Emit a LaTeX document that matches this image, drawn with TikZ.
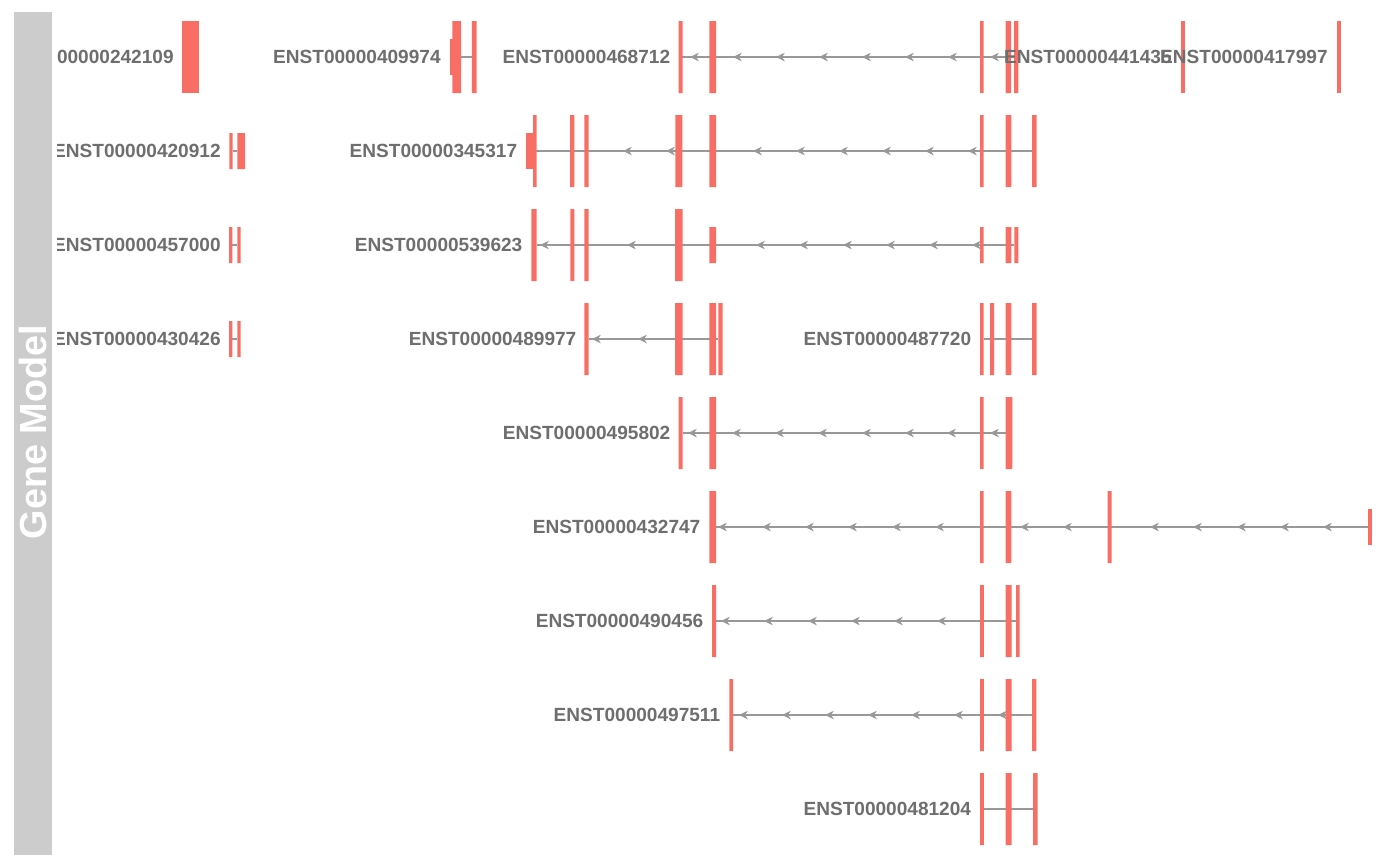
\documentclass[tikz,border=0pt]{standalone}
\usepackage{fontspec}
\setmainfont{Liberation Sans}
\usetikzlibrary{arrows.meta}
\definecolor{exonred}{RGB}{248,110,101}
\definecolor{intgray}{RGB}{152,152,152}
\definecolor{lblgray}{RGB}{110,110,110}
\definecolor{panelgray}{RGB}{204,204,204}
\tikzset{
  GM/.style={fill=panelgray},
  TT/.style={rotate=90,text=white,font=\fontsize{21.5}{25}\selectfont\bfseries,inner sep=0pt},
  TL/.style={font=\fontsize{10.85}{13}\selectfont\bfseries,text=lblgray,anchor=east,inner sep=0pt},
  CDS/.style={fill=exonred},
  UTR/.style={fill=exonred},
  IN/.style={draw=intgray,line width=1.15pt},
  AR/.style={intgray,line width=1.15pt,-{Stealth[length=5pt,width=4.8pt,inset=1.6pt]}},
}

\begin{document}
\begin{tikzpicture}[x=0.02cm,y=-0.02cm]
\useasboundingbox (0,0) rectangle (1400,866);

% Track title panel
\fill[GM] (14,12) rectangle (52,855);
\node[TT] (title) at (33,432) {Gene Model};

% Intron lines
\draw[IN] (461,57) -- (472,57);
\draw[IN] (682,57) -- (1014,57);
\draw[IN] (232.7,151) -- (237.3,151);
\draw[IN] (536,151) -- (1032,151);
\draw[IN] (232.3,245) -- (237.3,245);
\draw[IN] (536.7,245) -- (1014.3,245);
\draw[IN] (232.3,339) -- (237.3,339);
\draw[IN] (588.7,339) -- (718.3,339);
\draw[IN] (983.7,339) -- (1032,339);
\draw[IN] (682.7,433) -- (1005.7,433);
\draw[IN] (716,527) -- (1368.3,527);
\draw[IN] (716,621) -- (1016,621);
\draw[IN] (733,715) -- (1032,715);
\draw[IN] (984,809) -- (1033,809);

% Strand arrows (minus strand)
\foreach \x in {690,733,776,819,862,905,948,990} \draw[AR] (\x+8,57) -- (\x,57);
\foreach \x in {623,666,753,796,839,882,925,968} \draw[AR] (\x+8,151) -- (\x,151);
\foreach \x in {540,627,756,799,843,886,929,972} \draw[AR] (\x+8,245) -- (\x,245);
\foreach \x in {592,638} \draw[AR] (\x+8,339) -- (\x,339);
\foreach \x in {688,732,775,818,862,905,947,990} \draw[AR] (\x+8,433) -- (\x,433);
\foreach \x in {718,762,805,848,892,935,1020,1063,1150,1193,1237,1280,1323} \draw[AR] (\x+8,527) -- (\x,527);
\foreach \x in {721,764,808,851,894,937} \draw[AR] (\x+8,621) -- (\x,621);
\foreach \x in {739,782,825,868,911,954,998} \draw[AR] (\x+8,715) -- (\x,715);

% Row 1 exons
\fill[CDS] (182,21) rectangle (199,93);
\fill[UTR] (450,39) rectangle (452.5,75);
\fill[CDS] (452.3,21) rectangle (461,93) (471.8,21) rectangle (476.5,93);
\fill[CDS] (678.5,21) rectangle (682.5,93) (709.3,21) rectangle (716,93) (980,21) rectangle (983.7,93)
  (1005.7,21) rectangle (1011,93) (1014,21) rectangle (1018.3,93);
\fill[CDS] (1181,21) rectangle (1185,93);
\fill[CDS] (1337,21) rectangle (1341,93);

% Row 2 exons
\fill[UTR] (229.3,133) rectangle (232.7,169) (237.3,133) rectangle (245,169);
\fill[UTR] (526,133) rectangle (533.2,169);
\fill[CDS] (533,115) rectangle (536.7,187) (570,115) rectangle (574.3,187) (584.3,115) rectangle (588.7,187)
  (675.3,115) rectangle (682.3,187) (709.3,115) rectangle (716,187) (980,115) rectangle (983.7,187)
  (1005.7,115) rectangle (1011.3,187) (1032,115) rectangle (1036.7,187);

% Row 3 exons
\fill[UTR] (229,227) rectangle (232.3,263) (237.3,227) rectangle (240.7,263);
\fill[CDS] (531.3,209) rectangle (536.7,281) (570.3,209) rectangle (574.3,281) (584.3,209) rectangle (588.7,281)
  (675,209) rectangle (682.7,281);
\fill[UTR] (709.3,227) rectangle (716,263) (980,227) rectangle (983.7,263) (1005.7,227) rectangle (1011.3,263)
  (1014.3,227) rectangle (1018.3,263);

% Row 4 exons
\fill[UTR] (229,321) rectangle (232.3,357) (237.3,321) rectangle (240.7,357);
\fill[CDS] (584.3,303) rectangle (588.7,375) (675,303) rectangle (682.7,375) (709.3,303) rectangle (716,375)
  (718.3,303) rectangle (722.7,375);
\fill[CDS] (980,303) rectangle (983.7,375) (990,303) rectangle (994,375) (1005.7,303) rectangle (1011.3,375)
  (1032,303) rectangle (1036.7,375);

% Row 5 exons
\fill[CDS] (678.7,397) rectangle (682.7,469) (709.3,397) rectangle (716,469) (980,397) rectangle (983.7,469)
  (1005.7,397) rectangle (1012.3,469);

% Row 6 exons
\fill[CDS] (709.3,491) rectangle (716,563) (980,491) rectangle (983.7,563) (1005.7,491) rectangle (1011.3,563)
  (1107.7,491) rectangle (1111.7,563);
\fill[UTR] (1368.3,509) rectangle (1372.3,545);

% Row 7 exons
\fill[CDS] (712.1,585) rectangle (716,657) (980,585) rectangle (983.8,657) (1005.7,585) rectangle (1011.5,657)
  (1016,585) rectangle (1019.6,657);

% Row 8 exons
\fill[CDS] (729.3,679) rectangle (733.2,751) (980,679) rectangle (983.8,751) (1005.7,679) rectangle (1011.5,751)
  (1032,679) rectangle (1036.4,751);

% Row 9 exons
\fill[CDS] (980,773) rectangle (983.8,845) (1005.7,773) rectangle (1011.5,845) (1033,773) rectangle (1037.5,845);

% Transcript labels
\begin{scope}
\clip (57,0) rectangle (1400,866);
\node[TL] (t242109) at (174,57) {ENST00000242109};
\node[TL] (t409974) at (441,57) {ENST00000409974};
\node[TL] (t468712) at (670.5,57) {ENST00000468712};
\node[TL] (t441435) at (1172,57) {ENST00000441435};
\node[TL] (t417997) at (1328,57) {ENST00000417997};
\node[TL] (t420912) at (221,151) {ENST00000420912};
\node[TL] (t345317) at (517.5,151) {ENST00000345317};
\node[TL] (t457000) at (221,245) {ENST00000457000};
\node[TL] (t539623) at (522.7,245) {ENST00000539623};
\node[TL] (t430426) at (221,339) {ENST00000430426};
\node[TL] (t489977) at (576.7,339) {ENST00000489977};
\node[TL] (t487720) at (971.5,339) {ENST00000487720};
\node[TL] (t495802) at (670.7,433) {ENST00000495802};
\node[TL] (t432747) at (700.7,527) {ENST00000432747};
\node[TL] (t490456) at (703.6,621) {ENST00000490456};
\node[TL] (t497511) at (720.5,715) {ENST00000497511};
\node[TL] (t481204) at (971.4,809) {ENST00000481204};
\end{scope}

\end{tikzpicture}
\end{document}
